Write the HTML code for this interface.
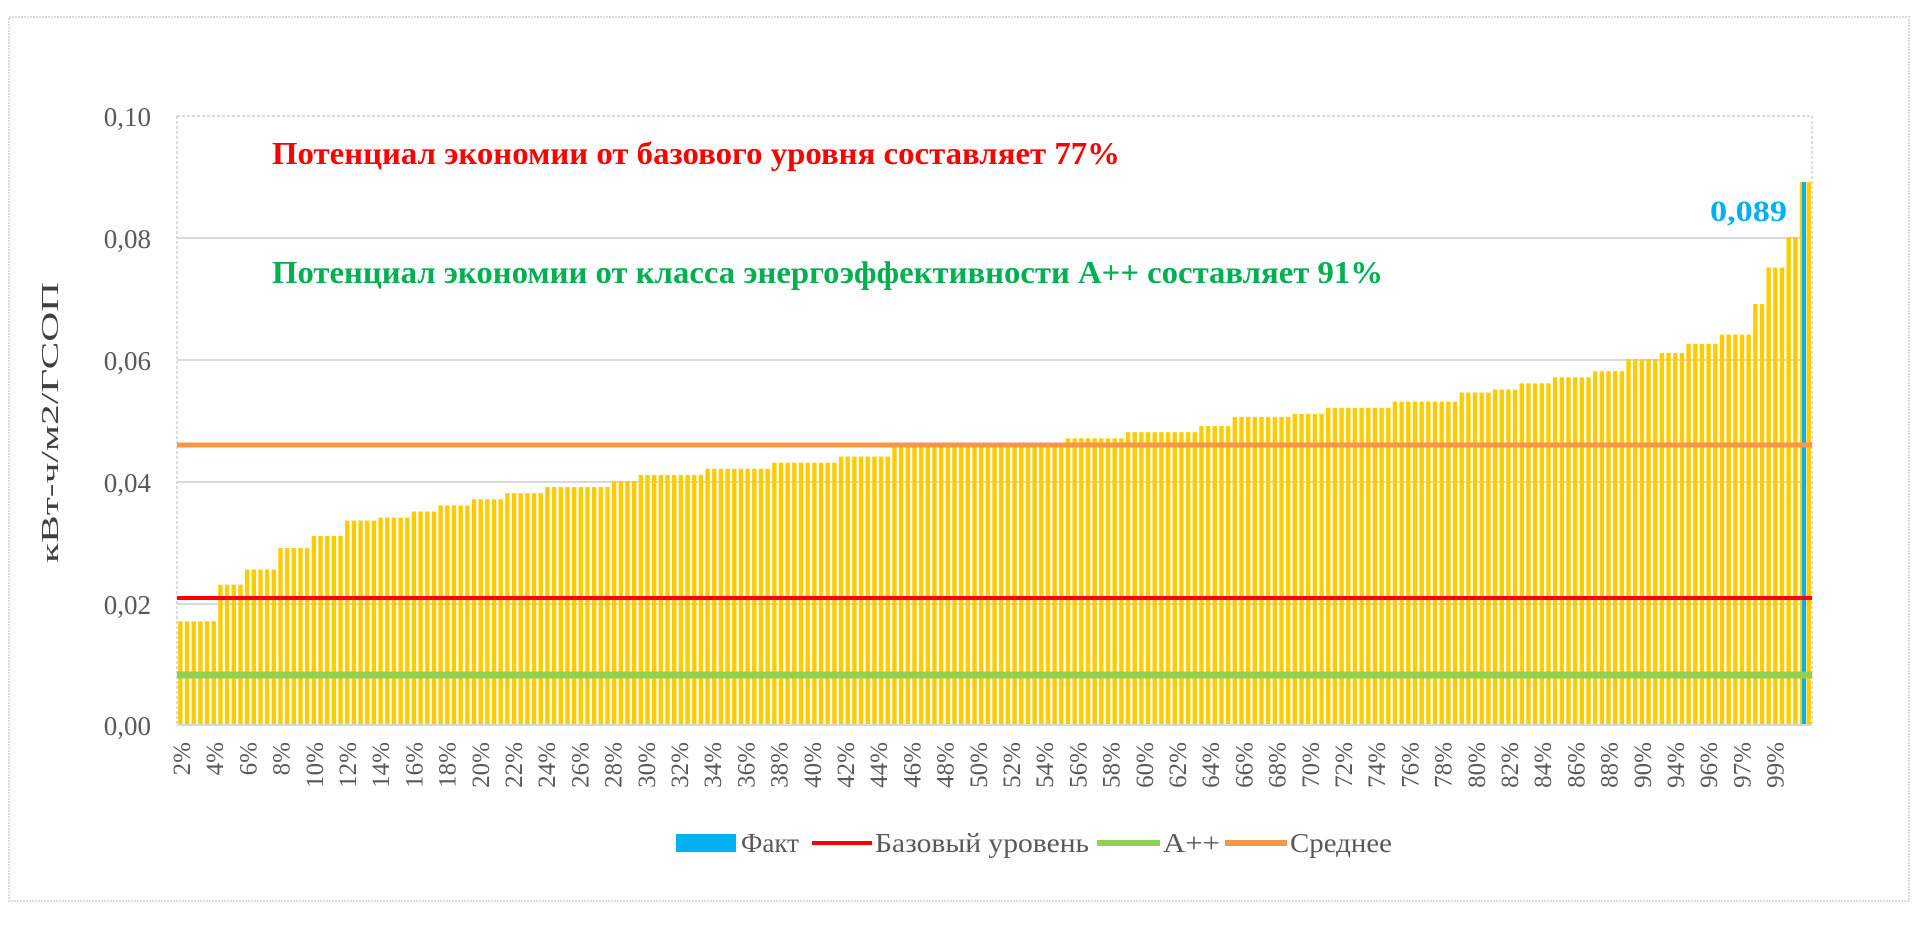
<!DOCTYPE html>
<html><head><meta charset="utf-8"><style>
body{margin:0;background:#fff;}
svg text{font-family:"Liberation Serif",serif;}
</style></head><body>
<svg id="s" width="1922" height="931" xmlns="http://www.w3.org/2000/svg">
<rect x="9" y="17" width="1900" height="884" fill="#fff" stroke="#d0d0d0" stroke-width="1.5" stroke-dasharray="2,1"/>
<g stroke="#d9d9d9" stroke-width="2">
<line x1="177" y1="238" x2="1812" y2="238"/>
<line x1="177" y1="360" x2="1812" y2="360"/>
<line x1="177" y1="482" x2="1812" y2="482"/>
<line x1="177" y1="604" x2="1812" y2="604"/>
</g>
<rect x="177" y="116" width="1635" height="609" fill="none" stroke="#d0d0d0" stroke-width="1.5" stroke-dasharray="3,2"/>
<g id="bars"></g>
<line x1="177" y1="725" x2="1812" y2="725" stroke="#d9d9d9" stroke-width="2"/>
<line x1="177" y1="445" x2="1812" y2="445" stroke="#f79646" stroke-width="5"/>
<line x1="177" y1="598" x2="1812" y2="598" stroke="#ff0000" stroke-width="4"/>
<line x1="177" y1="675" x2="1812" y2="675" stroke="#92d050" stroke-width="7"/>
<g font-size="27" fill="#595959" text-anchor="end">
<text x="151" y="126">0,10</text>
<text x="151" y="248">0,08</text>
<text x="151" y="370">0,06</text>
<text x="151" y="492">0,04</text>
<text x="151" y="614">0,02</text>
<text x="151" y="735">0,00</text>
</g>
<text transform="translate(58,563) rotate(-90)" font-size="24" fill="#404040" textLength="281" lengthAdjust="spacingAndGlyphs">кВт-ч/м2/ГСОП</text>
<text x="272" y="164" font-size="32" font-weight="bold" fill="#ff0000" textLength="848" lengthAdjust="spacingAndGlyphs">Потенциал экономии от базового уровня составляет 77%</text>
<text x="272" y="283" font-size="32" font-weight="bold" fill="#00b050" textLength="1111" lengthAdjust="spacingAndGlyphs">Потенциал экономии от класса энергоэффективности А++ составляет 91%</text>
<text x="1710" y="221" font-size="30" font-weight="bold" fill="#00b0f0" textLength="77" lengthAdjust="spacingAndGlyphs">0,089</text>
<g id="xl" font-size="25" fill="#595959"></g>
<rect x="676" y="834" width="60" height="18" fill="#00b0f0"/>
<line x1="812" y1="843" x2="872" y2="843" stroke="#ff0000" stroke-width="4"/>
<line x1="1097" y1="843" x2="1160" y2="843" stroke="#92d050" stroke-width="6"/>
<line x1="1225" y1="843" x2="1287" y2="843" stroke="#f79646" stroke-width="6"/>
<g font-size="27" fill="#595959">
<text x="741" y="852" textLength="58" lengthAdjust="spacingAndGlyphs">Факт</text>
<text x="875" y="852" textLength="214" lengthAdjust="spacingAndGlyphs">Базовый уровень</text>
<text x="1163" y="852" textLength="57" lengthAdjust="spacingAndGlyphs">А++</text>
<text x="1290" y="852" textLength="102" lengthAdjust="spacingAndGlyphs">Среднее</text>
</g>
</svg>
<script>
var steps=[[145,.017],[178,.023],[200,.0255],[228,.029],[253,.031],[283,.0335],[310,.034],[338,.035],[358,.036],[387,.037],[412,.038],[442,.039],[497,.040],[520,.041],[573,.042],[630,.043],[685,.044],[728,.046],[868,.047],[920,.048],[978,.049],[1003,.0505],[1052,.051],[1083,.052],[1137,.053],[1187,.0545],[1215,.055],[1240,.056],[1268,.057],[1297,.058],[1325,.060],[1352,.061],[1373,.0625],[1400,.064],[1430,.069],[1440,.075],[1457,.080],[1467,.089]];
function val(x){var d=145+(x-177)/1635*1333;var v=.017;for(var i=0;i<steps.length;i++){if(d>=steps[i][0])v=steps[i][1];}return v;}
var g=document.getElementById('bars'),h='';
var n=245,p=1635/n;
for(var i=0;i<n;i++){var x=177+i*p+1.2;var v=val(x+2);if(i==n-1)v=.089;var y=725-v*6100;
h+='<rect x="'+x.toFixed(2)+'" y="'+y.toFixed(1)+'" width="4.4" height="'+(725-y).toFixed(1)+'" fill="#ffcc00"/>';}
h+='<rect x="1802" y="'+(725-.089*6100)+'" width="4" height="'+(.089*6100)+'" fill="#00b0f0"/>';
g.innerHTML=h;
var labs=[];for(var k=2;k<=90;k+=2)labs.push(k+'%');labs.push('94%','96%','97%','99%');
var xl='';for(var j=0;j<labs.length;j++){var cx=190+j*33.2;
xl+='<text transform="translate('+cx.toFixed(1)+',742) rotate(-90)" text-anchor="end">'+labs[j]+'</text>';}
document.getElementById('xl').innerHTML=xl;
</script>
</body></html>
